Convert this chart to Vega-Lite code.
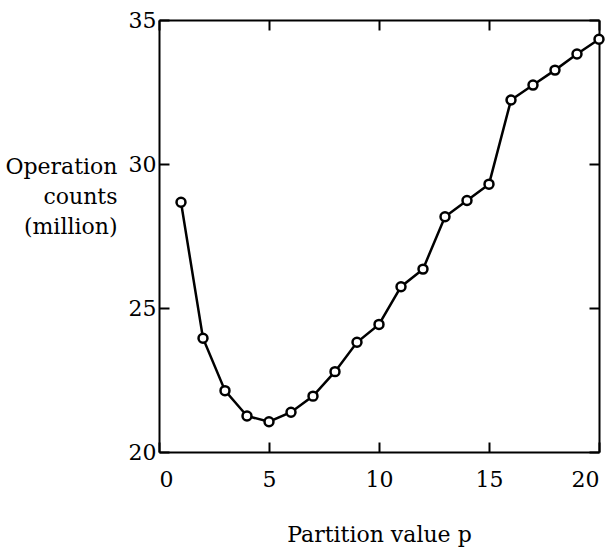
{
  "$schema": "https://vega.github.io/schema/vega-lite/v6.json",
  "width": 440,
  "height": 432,
  "autosize": {"type": "none"},
  "padding": {"left": 159, "top": 20, "right": 14, "bottom": 99},
  "background": "white",
  "config": {
    "view": {"stroke": null},
    "font": "DejaVu Serif",
    "axis": {
      "domainColor": "black",
      "domainWidth": 2,
      "tickColor": "black",
      "tickWidth": 2,
      "tickSize": -10,
      "labelFont": "DejaVu Serif",
      "labelFontSize": 22,
      "labelColor": "black",
      "titleFont": "DejaVu Serif",
      "titleFontSize": 22,
      "titleFontWeight": "normal",
      "titleColor": "black",
      "grid": false
    }
  },
  "data": {
    "values": [
      {"p": 1, "ops": 28.67},
      {"p": 2, "ops": 23.95},
      {"p": 3, "ops": 22.13},
      {"p": 4, "ops": 21.25},
      {"p": 5, "ops": 21.05},
      {"p": 6, "ops": 21.38},
      {"p": 7, "ops": 21.94},
      {"p": 8, "ops": 22.79},
      {"p": 9, "ops": 23.81},
      {"p": 10, "ops": 24.43},
      {"p": 11, "ops": 25.74},
      {"p": 12, "ops": 26.35},
      {"p": 13, "ops": 28.17},
      {"p": 14, "ops": 28.73},
      {"p": 15, "ops": 29.3},
      {"p": 16, "ops": 32.22},
      {"p": 17, "ops": 32.74},
      {"p": 18, "ops": 33.26},
      {"p": 19, "ops": 33.82},
      {"p": 20, "ops": 34.33}
    ]
  },
  "layer": [
    {
      "mark": {
        "type": "line",
        "color": "black",
        "strokeWidth": 2.5,
        "point": {"filled": false, "fill": "white", "stroke": "black", "strokeWidth": 2.5, "size": 80, "opacity": 1}
      },
      "encoding": {
        "x": {
          "field": "p",
          "type": "quantitative",
          "scale": {"domain": [0, 20], "nice": false},
          "axis": {
            "values": [0, 5, 10, 15, 20],
            "title": "Partition value p",
            "labelPadding": 27,
            "titlePadding": 34
          }
        },
        "y": {
          "field": "ops",
          "type": "quantitative",
          "scale": {"domain": [20, 35], "nice": false, "zero": false},
          "axis": {
            "values": [20, 25, 30, 35],
            "title": ["Operation", "counts", "(million)"],
            "titleAngle": 0,
            "titleAlign": "right",
            "titleBaseline": "top",
            "titleX": -42,
            "titleY": 136,
            "titleLineHeight": 30,
            "labelPadding": 13
          }
        }
      }
    },
    {
      "mark": {"type": "line", "opacity": 0},
      "encoding": {
        "x": {
          "field": "p",
          "type": "quantitative",
          "scale": {"domain": [0, 20], "nice": false},
          "axis": {"orient": "top", "values": [0, 5, 10, 15, 20], "labels": false, "title": null}
        },
        "y": {
          "field": "ops",
          "type": "quantitative",
          "scale": {"domain": [20, 35], "nice": false, "zero": false},
          "axis": {"orient": "right", "values": [20, 25, 30, 35], "labels": false, "title": null}
        }
      }
    }
  ],
  "resolve": {"axis": {"x": "independent", "y": "independent"}}
}
